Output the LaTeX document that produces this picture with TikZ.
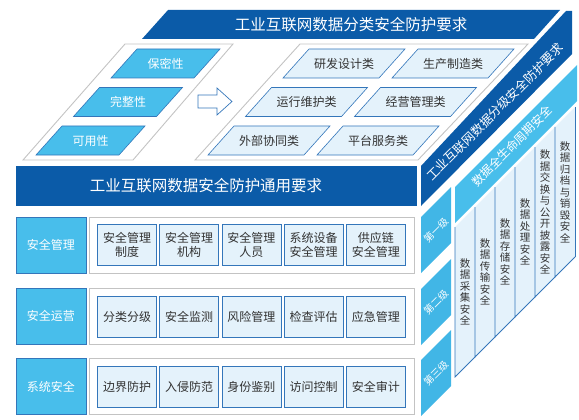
\documentclass[tikz,border=0pt]{standalone}
\usepackage{fontspec}
\setmainfont{Noto Sans CJK SC}
\usetikzlibrary{positioning}

\definecolor{deepblue}{RGB}{11,91,168}
\definecolor{skyblue}{RGB}{72,190,235}
\definecolor{tierblue}{RGB}{65,182,230}
\definecolor{paleblue}{RGB}{228,242,251}
\definecolor{lineblue}{RGB}{52,118,186}
\definecolor{framegray}{RGB}{195,195,195}
\definecolor{inkgray}{RGB}{50,50,50}

\begin{document}
\begin{tikzpicture}[x=1pt,y=-1pt,
                band/.style={fill=deepblue},
                heading/.style={text=white,font=\fontsize{15.5}{18}\selectfont},
                slanttext/.style={text=white,font=\fontsize{12.5}{15}\selectfont,rotate=45},
                sidelabel/.style={draw=lineblue,fill=skyblue,line width=0.8pt,minimum width=70pt,minimum height=56pt,text=white,font=\fontsize{12}{14}\selectfont},
                rowframe/.style={draw=framegray,fill=white,line width=1pt,minimum width=325pt,minimum height=56pt},
                itembox/.style={draw=lineblue,fill=paleblue,line width=0.8pt,minimum width=59pt,minimum height=41pt,inner sep=1pt,align=center,text=inkgray,font=\fontsize{12}{14}\selectfont},
                keyshape/.style={draw=lineblue,fill=skyblue,line width=0.6pt},
                keytext/.style={text=white,font=\fontsize{12}{14}\selectfont},
                kindshape/.style={draw=lineblue,fill=paleblue,line width=0.6pt},
                kindtext/.style={text=inkgray,font=\fontsize{12}{14}\selectfont},
                tray/.style={draw=framegray,line width=0.9pt},
                tierbox/.style={fill=tierblue},
                tiertext/.style={text=white,font=\fontsize{10}{12}\selectfont,rotate=45},
                phasebox/.style={fill=paleblue},
                phasetext/.style={text=inkgray,align=center,font=\fontsize{10.5}{11.5}\selectfont}]
                \useasboundingbox (0,0) rectangle (579,420);
                \fill[band] (142,39) -- (168,10) -- (560,10) -- (534,39) -- cycle;
                \node[heading] (classtitle) at (351,25) {工业互联网数据分类安全防护要求};
                \draw[tray] (23,160) -- (133,160) -- (233,44) -- (125,44) -- cycle;
                \draw[tray] (195,160) -- (418,160) -- (528,44) -- (300,44) -- cycle;
                \foreach \txt [count=\r from 0] in {保密性,完整性,可用性} {
                  \filldraw[keyshape] ({111-37.5*\r},{78+38.5*\r}) -- ++(83,0) -- ++(26,-29) -- ++(-83,0) -- cycle;
                  \node[keytext] (key\r) at ({165.5-37.5*\r},{63.5+38.5*\r}) {\txt};
                }
                \foreach \ltxt/\rtxt [count=\r from 0] in {研发设计类/生产制造类,运行维护类/经营管理类,外部协同类/平台服务类} {
                  \filldraw[kindshape] ({283-37.5*\r},{78+38.5*\r}) -- ++(96,0) -- ++(26,-29) -- ++(-96,0) -- cycle;
                  \filldraw[kindshape] ({392-37.5*\r},{78+38.5*\r}) -- ++(96,0) -- ++(26,-29) -- ++(-96,0) -- cycle;
                  \node[kindtext] (kindl\r) at ({344-37.5*\r},{63.5+38.5*\r}) {\ltxt};
                  \node[kindtext] (kindr\r) at ({453-37.5*\r},{63.5+38.5*\r}) {\rtxt};
                }
                \draw[lineblue,fill=white,line width=0.7pt] (198,95) -- (217,95) -- (217,88) -- (232,101.5) -- (217,115) -- (217,108) -- (198,108) -- cycle;
                \fill[band] (16,166) rectangle (417,206);
                \node[heading] (basetitle) at (206,186) {工业互联网数据安全防护通用要求};
                \foreach \txt/\y [count=\r] in {安全管理/245,安全运营/316,系统安全/386.5} {
                  \node[rowframe] (row\r) at (251.5,\y) {};
                  \node[sidelabel] (area\r) at (51,\y) {\txt};
                }
                \foreach \txt [count=\i from 0] in {{安全管理\\制度},{安全管理\\机构},{安全管理\\人员},{系统设备\\安全管理},{供应链\\安全管理}}
                  \node[itembox] (mgmt\i) at ({127+62.2*\i},244.5) {\txt};
                \foreach \txt [count=\i from 0] in {分类分级,安全监测,风险管理,检查评估,应急管理}
                  \node[itembox] (oper\i) at ({127+62.2*\i},316.5) {\txt};
                \foreach \txt [count=\i from 0] in {边界防护,入侵防范,身份鉴别,访问控制,安全审计}
                  \node[itembox] (syst\i) at ({127+62.2*\i},386.5) {\txt};
                \fill[band] (421,166) -- (566,11) -- (572,11) -- (572,54) -- (421,206) -- cycle;
                \node[slanttext] (gradetitle) at (495,112) {工业互联网数据分级安全防护要求};
                \fill[skyblue] (455,187) -- (577,65) -- (577,101) -- (455,223) -- cycle;
                \node[slanttext,font=\fontsize{12}{14}\selectfont] (lifetitle) at (512,146) {数据全生命周期安全};
                \foreach \txt/\y [count=\r] in {第一级/217,第二级/289,第三级/360} {
                  \fill[tierbox] (421,\y) -- (451,\y-30) -- (451,\y+26) -- (421,\y+56) -- cycle;
                  \node[tiertext] (tier\r) at (436,\y+13) {\txt};
                }
                \foreach \txt [count=\j from 0] in {{数\\据\\采\\集\\安\\全},{数\\据\\传\\输\\安\\全},{数\\据\\存\\储\\安\\全},{数\\据\\处\\理\\安\\全},{数\\据\\交\\换\\与\\公\\开\\披\\露\\安\\全},{数\\据\\归\\档\\与\\销\\毁\\安\\全}} {
                  \fill[phasebox] ({455+20*\j},{227-20*\j}) -- ++(20,-20) -- ++(0,150) -- ++(-20,20) -- cycle;
                  \draw[lineblue,line width=0.8pt] ({455+20*\j},{227-20*\j}) -- ++(0,150) -- ++(20,-20);
                  \node[phasetext] (phase\j) at ({465+20*\j},{292-20*\j}) {\txt};
                }
                \draw[lineblue,line width=0.8pt] (575,107) -- (575,257);
            \end{tikzpicture}
\end{document}
